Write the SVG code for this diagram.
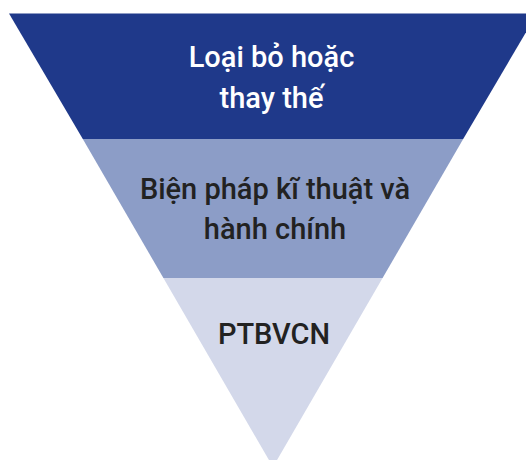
<svg xmlns="http://www.w3.org/2000/svg" width="526" height="460" viewBox="0 0 526 460">
<style>
.t{font-family:Roboto,"Liberation Sans",sans-serif;font-size:29px;font-weight:500;text-anchor:middle}
.w{fill:#ffffff}
.d{fill:#222222}
</style>
<rect width="526" height="460" fill="#ffffff"/>
<g id="level1">
<polygon points="9,13.5 537,13.5 463.2,139 82.8,139" fill="#1f398a"/>
<text class="t w" x="271.5" y="67">Loại bỏ hoặc</text>
<text class="t w" x="271.5" y="108">thay thế</text>
</g>
<g id="level2">
<polygon points="82.8,139 463.2,139 382.6,278 163.4,278" fill="#8c9dc7"/>
<text class="t d" x="275" y="199">Biện pháp kĩ thuật và</text>
<text class="t d" x="275" y="239">hành chính</text>
</g>
<g id="level3">
<polygon points="163.4,278 382.6,278 273,467" fill="#d3d8ea"/>
<text class="t d" x="274" y="344">PTBVCN</text>
</g>
<g id="connectors"/>
</svg>
